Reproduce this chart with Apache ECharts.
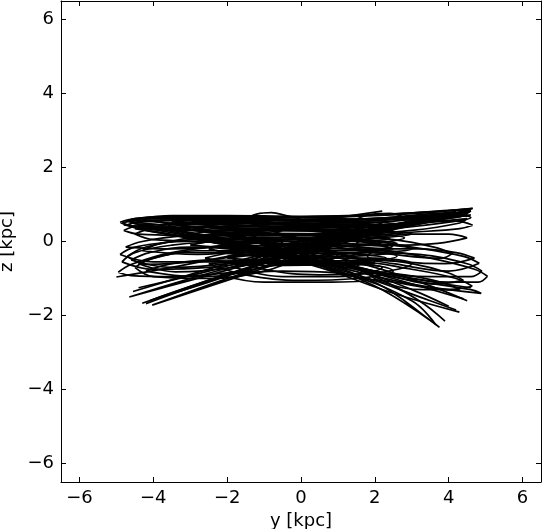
<!DOCTYPE html>
<html>
<head>
<meta charset="utf-8">
<script src="https://cdn.jsdelivr.net/npm/echarts@6/dist/echarts.min.js"></script>
<style>
    html, body {margin: 0; padding: 0; background: #fff;}
    #chart {width: 543px; height: 529px;}
</style>
</head>
<body>
<div id="chart"></div>
<script>
// tick values on both axes
const tickValues = [-6, -4, -2, 0, 2, 4, 6]

// orbit pieces, [y, z] in kpc
// flat loops in the upper band
const topBand = [
    [[-4.9, 0.52], [-4.5, 0.62], [-3, 0.66], [-1, 0.64], [1, 0.66], [3, 0.75], [4.5, 0.88], [4.65, 0.9], [4.4, 0.8], [3, 0.6], [1, 0.45], [-1, 0.4], [-3, 0.38], [-4.6, 0.42], [-4.9, 0.52]],
    [[-4.7, 0.45], [-4.3, 0.55], [-2.5, 0.6], [0, 0.55], [2, 0.62], [4.2, 0.78], [4.5, 0.75], [4.2, 0.65], [2, 0.42], [0, 0.3], [-2.5, 0.3], [-4.4, 0.35], [-4.7, 0.45]],
    [[-4.8, 0.3], [-4.4, 0.42], [-2, 0.5], [0, 0.48], [2.5, 0.6], [4.4, 0.7], [4.6, 0.65], [4.2, 0.55], [2.5, 0.35], [0, 0.2], [-2, 0.15], [-4.4, 0.2], [-4.8, 0.3]],
    [[-4.5, 0.2], [-4, 0.35], [-2, 0.4], [0.5, 0.38], [3, 0.5], [4.5, 0.62], [4.3, 0.5], [3, 0.3], [0.5, 0.1], [-2, 0.0], [-4, 0.05], [-4.5, 0.2]],
    [[-4.85, 0.5], [-4.4, 0.58], [-2, 0.58], [0.5, 0.58], [3, 0.68], [4.6, 0.82], [4.4, 0.72], [3, 0.52], [0.5, 0.36], [-2, 0.3], [-4.4, 0.4], [-4.85, 0.5]],
    [[-4.6, 0.6], [-4.1, 0.66], [-2.5, 0.68], [-0.5, 0.66], [1.5, 0.7], [3.5, 0.8], [4.55, 0.86], [4.3, 0.78], [3, 0.66], [1, 0.56], [-1, 0.52], [-3, 0.52], [-4.3, 0.54], [-4.6, 0.6]],
    [[-4.4, 0.62], [-3.5, 0.7], [-2, 0.7], [0, 0.68], [2, 0.72], [4, 0.84], [4.6, 0.88]],
    [[-4.7, 0.56], [-4.2, 0.62], [-3, 0.62], [-1.5, 0.6], [-0.5, 0.62], [-1.5, 0.48], [-3, 0.45], [-4.4, 0.47], [-4.7, 0.56]],
    [[-1.6, 0.55], [-1.2, 0.74], [-0.8, 0.78], [-0.4, 0.7], [0, 0.6]],
    [[1.5, 0.6], [2.0, 0.75], [2.4, 0.76], [2.8, 0.65]],
    [[0.8, 0.62], [1.5, 0.72], [2.2, 0.82]]
]

// strands from lower left to upper right
const risingStrands = [
    [[-4.65, -1.5], [-3, -1.0], [-1, -0.45], [1, 0.1], [3, 0.55], [4.6, 0.85], [4.4, 0.8], [3, 0.5], [1, 0.05], [-1, -0.5], [-3, -1.05], [-4.65, -1.5]],
    [[-4.3, -1.67], [-2.5, -1.05], [-0.5, -0.4], [1.5, 0.2], [3.5, 0.62], [4.5, 0.78]],
    [[-4.03, -1.72], [-2, -1.0], [0, -0.35], [2, 0.25], [4, 0.7], [4.55, 0.8], [4, 0.65], [2, 0.2], [0, -0.4], [-2, -1.05], [-4.03, -1.72]],
    [[-4.1, -1.6], [-2.2, -0.95], [0, -0.3], [2.2, 0.3], [4.3, 0.72]],
    [[-5.0, -0.96], [-3.5, -0.7], [-1.5, -0.3], [0.5, 0.1], [2.5, 0.45], [4.5, 0.7]],
    [[-4.4, -1.25], [-2.5, -0.8], [-0.5, -0.25], [1.5, 0.2], [3.8, 0.6]],
    [[-4.2, -1.68], [-3, -1.25], [-1.5, -0.75], [0.5, -0.15], [2.5, 0.35], [4.4, 0.8]],
    [[-3.8, -1.5], [-2.5, -1.1], [-1, -0.6], [1, 0.0], [3, 0.45], [4.6, 0.72]],
    [[-4.55, -1.35], [-3.2, -0.95], [-1.8, -0.55], [0, -0.1], [2, 0.35], [4.2, 0.82]]
]

// strands from upper left to lower right
const fallingStrands = [
    [[-4.6, 0.5], [-2.5, 0.1], [0, -0.5], [2, -1.2], [3.75, -2.32], [3.6, -2.2], [2, -1.1], [0, -0.45], [-2.5, 0.15], [-4.6, 0.5]],
    [[-4.4, 0.45], [-2, -0.05], [0.5, -0.7], [2.5, -1.4], [4.29, -1.91]],
    [[-4.5, 0.35], [-2, -0.1], [1, -0.7], [3, -1.15], [4.88, -1.4], [4.6, -1.3], [3, -1.05], [1, -0.65], [-2, -0.05], [-4.5, 0.35]],
    [[-4.2, 0.3], [-1.5, -0.2], [1, -0.8], [3, -1.6], [3.65, -2.25]],
    [[-3.8, 0.4], [-1, -0.25], [1.5, -0.9], [3.5, -1.6], [4.2, -1.85]],
    [[-4.7, 0.55], [-2, 0.15], [0.5, -0.45], [2.5, -1.0], [4.4, -1.55]],
    [[-4.3, 0.6], [-2.5, 0.3], [-0.5, -0.2], [1.5, -0.75], [3, -1.3], [4.0, -1.75]],
    [[-3.5, 0.5], [-1.5, 0.1], [0.5, -0.4], [2, -0.95], [3.2, -1.6], [3.9, -2.15]],
    [[-4.8, 0.45], [-3, 0.15], [-1, -0.25], [1, -0.6], [3, -1.0], [4.6, -1.25]],
    [[-4, 0.55], [-2, 0.2], [0, -0.2], [2, -0.7], [3.5, -1.2], [4.5, -1.6]]
]

// loops turning at the left
const leftLoops = [
    [[-4.95, -0.83], [-4.6, -0.62], [-3.5, -0.3], [-2, -0.15], [-0.5, -0.2], [0.3, -0.35], [-0.5, -0.6], [-2, -0.85], [-3.5, -0.95], [-4.6, -0.92], [-4.95, -0.83]],
    [[-4.85, -0.55], [-4.5, -0.3], [-3.5, -0.1], [-2, 0.0], [-0.8, -0.1], [-0.4, -0.3], [-1, -0.5], [-2.5, -0.7], [-4, -0.75], [-4.85, -0.55]],
    [[-4.7, -0.4], [-4.2, -0.15], [-3, 0.05], [-1.5, 0.1], [-0.5, 0.0], [-1, -0.25], [-2.5, -0.5], [-4.2, -0.62], [-4.7, -0.4]],
    [[-4.5, -0.7], [-4.0, -0.45], [-3, -0.3], [-1.5, -0.3], [-0.3, -0.5], [-1, -0.8], [-2.5, -1.0], [-4, -0.95], [-4.5, -0.7]],
    [[-4.3, -0.25], [-3.8, -0.05], [-2.5, 0.15], [-1, 0.2], [0, 0.05], [-1, -0.15], [-2.8, -0.35], [-4.3, -0.25]],
    [[-4.9, -0.35], [-4.5, -0.15], [-3, 0.0], [-1.5, 0.0], [0.5, -0.2], [1, -0.4], [0, -0.55], [-2, -0.55], [-4, -0.55], [-4.9, -0.35]],
    [[-4.6, -0.5], [-4.1, -0.3], [-3, -0.15], [-1.8, -0.15], [-1, -0.35], [-2, -0.6], [-3.5, -0.7], [-4.6, -0.5]],
    [[-4.75, -0.15], [-4.3, 0.0], [-3.2, 0.15], [-2, 0.2], [-1.2, 0.1], [-2, -0.1], [-3.5, -0.2], [-4.75, -0.15]],
    [[-4.4, -0.6], [-3.8, -0.4], [-2.8, -0.25], [-1.5, -0.25], [-1, -0.45], [-2, -0.72], [-3.4, -0.82], [-4.4, -0.6]],
    [[-4.2, -0.8], [-3.5, -0.6], [-2.5, -0.5], [-1.2, -0.55], [-1.5, -0.8], [-2.8, -0.95], [-4.2, -0.8]]
]

// loops turning at the right
const rightLoops = [
    [[5.05, -0.94], [4.7, -0.75], [3.5, -0.45], [2, -0.2], [0.5, -0.1], [0, -0.25], [1, -0.55], [2.5, -0.9], [4, -1.1], [4.8, -1.1], [5.05, -0.94]],
    [[4.83, -0.59], [4.4, -0.4], [3, -0.15], [1.5, 0.05], [0.2, 0.05], [0, -0.1], [1, -0.35], [2.5, -0.6], [4, -0.8], [4.83, -0.59]],
    [[4.1, -0.32], [3.6, -0.15], [2.5, 0.05], [1, 0.15], [0.3, 0.1], [1, -0.15], [2.5, -0.35], [3.8, -0.45], [4.1, -0.32]],
    [[4.64, -1.21], [4.2, -1.0], [3, -0.75], [1.5, -0.55], [0.5, -0.6], [1.2, -0.9], [2.5, -1.1], [4, -1.3], [4.64, -1.21]],
    [[4.9, -0.8], [4.5, -0.6], [3.2, -0.35], [1.8, -0.3], [1.2, -0.5], [2, -0.8], [3.5, -0.95], [4.6, -0.95], [4.9, -0.8]],
    [[4.65, 0.44], [4.2, 0.55], [3, 0.5], [1.5, 0.35], [0.5, 0.2], [1.5, 0.15], [3, 0.25], [4.3, 0.35], [4.65, 0.44]],
    [[4.4, -1.05], [4.0, -0.85], [3, -0.6], [2, -0.5], [1.5, -0.7], [2.5, -0.95], [3.6, -1.15], [4.4, -1.05]],
    [[4.5, 0.1], [4.0, 0.2], [3, 0.2], [2, 0.1], [1.5, -0.05], [2.5, -0.1], [3.7, -0.05], [4.5, 0.1]],
    [[4.3, -1.3], [3.8, -1.1], [2.8, -0.9], [1.8, -0.85], [2.2, -1.1], [3.3, -1.3], [4.3, -1.3]],
    [[4.7, -0.45], [4.2, -0.3], [3.2, -0.2], [2.2, -0.2], [1.8, -0.4], [2.8, -0.55], [3.9, -0.6], [4.7, -0.45]]
]

// loops across the middle
const centerLoops = [
    [[-2.5, -0.6], [-1.5, -0.9], [0, -1.05], [1.5, -1.0], [2.5, -0.8], [1.5, -0.6], [0, -0.6], [-1.5, -0.55], [-2.5, -0.6]],
    [[-2, -0.4], [-1, -0.75], [0.5, -0.9], [2, -0.85], [3, -0.6], [2, -0.45], [0.5, -0.45], [-1, -0.35], [-2, -0.4]],
    [[-2.2, -0.9], [-1, -1.1], [0.5, -1.1], [1.8, -1.05], [1, -0.85], [-0.5, -0.8], [-2.2, -0.9]],
    [[-3, 0.2], [-1.5, 0.35], [0, 0.3], [1.5, 0.3], [3, 0.2], [1.5, 0.05], [0, 0.0], [-1.5, 0.05], [-3, 0.2]],
    [[-3, -0.1], [-1.5, 0.1], [0, 0.1], [1.5, 0.0], [3, -0.2], [1.5, -0.3], [0, -0.25], [-1.5, -0.2], [-3, -0.1]],
    [[-2.5, 0.45], [-1, 0.5], [0.5, 0.45], [2, 0.45], [1, 0.25], [-0.5, 0.2], [-2.5, 0.45]],
    [[-3.5, 0.55], [-2, 0.62], [0, 0.6], [2, 0.6], [3.5, 0.55], [2, 0.45], [0, 0.4], [-2, 0.45], [-3.5, 0.55]],
    [[-3.2, 0.35], [-1.5, 0.5], [0.5, 0.45], [2.5, 0.4], [1, 0.2], [-1, 0.2], [-3.2, 0.35]],
    [[-2.8, 0.1], [-1, 0.3], [1, 0.25], [2.8, 0.1], [1, -0.1], [-1, -0.05], [-2.8, 0.1]],
    [[-2.5, -0.2], [-1, 0.05], [1, 0.05], [2.5, -0.1], [1, -0.35], [-1, -0.4], [-2.5, -0.2]],
    [[-2.6, -0.45], [-1, -0.2], [1, -0.2], [2.6, -0.4], [1, -0.6], [-1, -0.65], [-2.6, -0.45]],
    [[-2.2, 0.0], [-0.5, 0.4], [1.5, 0.5], [2.2, 0.35], [0.5, 0.0], [-1.5, -0.3], [-2.2, 0.0]],
    [[-2, 0.4], [-0.5, 0.15], [1, -0.3], [2, -0.6], [0.5, -0.5], [-1, -0.1], [-2, 0.4]],
    [[-1.8, -0.7], [-0.5, -0.55], [1, -0.6], [2.2, -0.7], [1, -0.95], [-0.5, -0.95], [-1.8, -0.7]]
]

// packed loops making the solid core
const coreLoops = [
    [[-2.6, 0.6], [-1, 0.65], [1, 0.62], [2.4, 0.55], [1, 0.5], [-1, 0.52], [-2.6, 0.6]],
    [[-2.4, 0.5], [-0.8, 0.58], [1.2, 0.55], [2.6, 0.48], [1, 0.38], [-1, 0.4], [-2.4, 0.5]],
    [[-2.7, 0.38], [-1, 0.45], [1, 0.42], [2.5, 0.3], [1, 0.3], [-1, 0.3], [-2.7, 0.38]],
    [[-2.5, 0.25], [-0.8, 0.35], [1, 0.32], [2.5, 0.22], [1, 0.15], [-1, 0.15], [-2.5, 0.25]],
    [[-2.6, 0.12], [-1, 0.22], [1, 0.2], [2.4, 0.08], [1, 0.0], [-1, 0.02], [-2.6, 0.12]],
    [[-2.4, -0.02], [-0.8, 0.1], [1, 0.08], [2.6, -0.05], [1, -0.12], [-1, -0.12], [-2.4, -0.02]],
    [[-2.5, -0.15], [-1, -0.05], [1, -0.05], [2.4, -0.18], [1, -0.25], [-1, -0.25], [-2.5, -0.15]],
    [[-2.3, -0.3], [-0.8, -0.18], [1, -0.18], [2.5, -0.3], [1, -0.4], [-1, -0.38], [-2.3, -0.3]],
    [[-2, -0.45], [-0.5, -0.32], [1, -0.32], [2.3, -0.45], [1, -0.52], [-0.5, -0.52], [-2, -0.45]],
    [[-1.6, -0.55], [-0.3, -0.45], [1, -0.45], [2, -0.55], [1, -0.65], [-0.3, -0.62], [-1.6, -0.55]],
    [[-3.6, 0.45], [-2.5, 0.55], [-1.5, 0.5], [-0.5, 0.3], [-1.5, 0.25], [-3, 0.3], [-3.6, 0.45]],
    [[0.5, 0.5], [1.5, 0.6], [3, 0.65], [3.8, 0.6], [3, 0.45], [1.5, 0.4], [0.5, 0.5]],
    [[-1.5, 0.55], [0, 0.4], [1.5, 0.1], [2.5, -0.2], [1, -0.1], [-0.5, 0.2], [-1.5, 0.55]],
    [[-2, -0.3], [-0.5, -0.1], [1, 0.2], [2.2, 0.5], [1.5, 0.2], [0, -0.2], [-2, -0.3]]
]

const allPaths = [].concat(topBand, risingStrands, fallingStrands, leftLoops, rightLoops, centerLoops, coreLoops)

function minusSign(v) {
    return String(v).replace('-', '\u2212')
}

function buildAxis(position, showLabel, name) {
    return {
        type: 'value',
        position: position,
        min: -6.5,
        max: 6.5,
        name: name,
        nameLocation: 'middle',
        nameGap: position === 'bottom' ? 30 : 44,
        nameTextStyle: {color: '#000', fontSize: 18, fontFamily: 'DejaVu Sans'},
        axisLine: {show: true, onZero: false, lineStyle: {color: '#000', width: 1}},
        axisTick: {show: true, inside: true, length: 5, customValues: tickValues, lineStyle: {color: '#000'}},
        axisLabel: {
            show: showLabel,
            customValues: tickValues,
            color: '#000',
            fontSize: 18,
            fontFamily: 'DejaVu Sans',
            margin: 7,
            formatter: minusSign
        },
        splitLine: {show: false}
    }
}

const chart = echarts.init(document.getElementById('chart'))
chart.setOption({
    animation: false,
    backgroundColor: '#fff',
    grid: {left: 61, right: 2, top: 1, bottom: 47, outerBoundsMode: 'none'},
    xAxis: [buildAxis('bottom', true, 'y [kpc]'), buildAxis('top', false, '')],
    yAxis: [buildAxis('left', true, 'z [kpc]'), buildAxis('right', false, '')],
    series: allPaths.map(function (path) {
        return {
            type: 'line',
            data: path,
            smooth: 0.4,
            showSymbol: false,
            symbol: 'none',
            lineStyle: {color: '#000', width: 1.7}
        }
    })
})
</script>
</body>
</html>
